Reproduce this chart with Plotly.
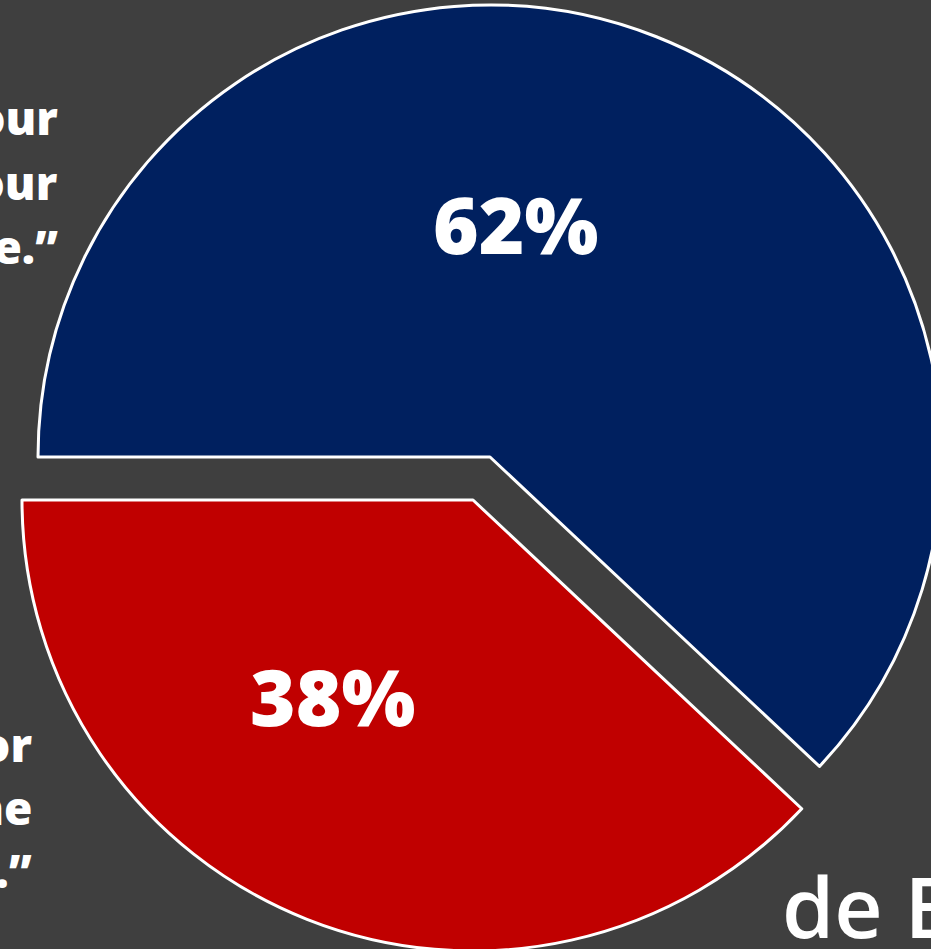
import plotly.graph_objects as go

# Poll result shares (percent)
categories = ["Right direction", "Wrong track"]
shares = [62, 38]
slice_colors = ["#00205f", "#c00000"]

# Quote text beside each slice
top_quote = ["\u201cFights for your", "family and your", "future.\u201d"]
bottom_quote = ["\u201cOnly looks out for", "himself and no one", "else.\u201d"]
brand = "de Blasio"

W, H = 960, 960
BG = "#3f3f3f"
CLEAR = "rgba(0,0,0,0)"


def px_x(x):
    return x / W


def px_y(y):
    return 1 - y / H


fig = go.Figure()

# Main slice (blue), red slice kept invisible so angles stay data-driven
fig.add_trace(go.Pie(
    labels=categories, values=shares, sort=False,
    direction="clockwise", rotation=270,
    marker=dict(colors=[slice_colors[0], CLEAR],
                line=dict(color=["white", CLEAR], width=3)),
    textinfo="none", hoverinfo="skip", showlegend=False,
    domain=dict(x=[px_x(20), 1.0], y=[px_y(909), px_y(5)]),
))

# Exploded slice (red), drawn in its own shifted domain
fig.add_trace(go.Pie(
    labels=categories, values=shares, sort=False,
    direction="clockwise", rotation=270,
    marker=dict(colors=[CLEAR, slice_colors[1]],
                line=dict(color=[CLEAR, "white"], width=3)),
    textinfo="none", hoverinfo="skip", showlegend=False,
    domain=dict(x=[px_x(10), px_x(936)], y=[px_y(951), px_y(49)]),
))

annotations = []
label_pos = [(515, 224), (332, 696)]
for v, (x, y) in zip(shares, label_pos):
    annotations.append(dict(
        text=f"{v}%", x=px_x(x), y=px_y(y), xref="paper", yref="paper",
        xanchor="center", yanchor="middle", showarrow=False,
        font=dict(family="Open Sans", size=78, color="white", weight=800),
    ))

for lines, right, mids in [(top_quote, 60, [117, 182, 246]),
                           (bottom_quote, 34, [744, 807, 870])]:
    for line, ym in zip(lines, mids):
        annotations.append(dict(
            text=line, x=px_x(right), y=px_y(ym), xref="paper", yref="paper",
            xanchor="right", yanchor="middle", showarrow=False,
            font=dict(family="Open Sans", size=46, color="white", weight=800),
        ))

annotations.append(dict(
    text=brand, x=px_x(780), y=px_y(905), xref="paper", yref="paper",
    xanchor="left", yanchor="middle", showarrow=False,
    font=dict(family="Open Sans", size=84, color="white", weight=600),
))

fig.update_layout(
    width=W, height=H,
    margin=dict(l=0, r=0, t=0, b=0),
    paper_bgcolor=BG, plot_bgcolor=BG,
    annotations=annotations,
)

fig.write_html(
    "out.html",
    config={"displayModeBar": False},
    post_script=(
        "document.documentElement.style.overflow='hidden';"
        "document.body.style.overflow='hidden';"
        "document.body.style.margin='0';"
        "document.body.style.background='" + BG + "';"
    ),
)
